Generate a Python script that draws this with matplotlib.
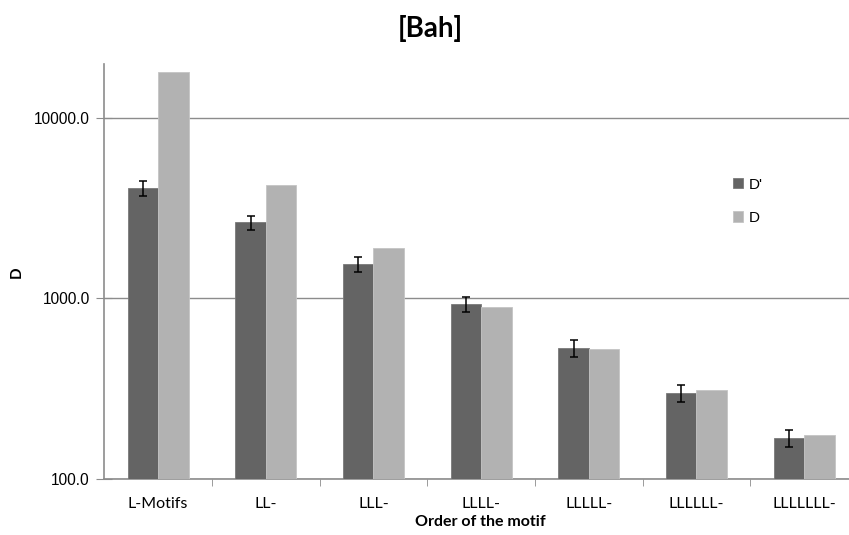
import matplotlib
matplotlib.use('Agg')
from matplotlib import pyplot as plt
from matplotlib.ticker import FixedLocator, FuncFormatter, NullLocator
import numpy as np

categories = ['L-Motifs', 'LL-', 'LLL-', 'LLLL-', 'LLLLL-', 'LLLLLL-', 'LLLLLLL-']
d_prime = [4080, 2640, 1545, 935, 530, 300, 168]
d_prime_err = [380, 245, 145, 90, 55, 32, 19]
d_values = [18100, 4250, 1900, 900, 522, 312, 175]

dark = '#646464'
light = '#b2b2b2'
grid_c = '#8c8c8c'

fig = plt.figure(figsize=(8.49, 5.35), dpi=100)
ax = fig.add_axes([104.3 / 849, 56.3 / 535, (858 - 104.3) / 849, (478.7 - 64) / 535])

x = np.arange(len(categories))
w = 0.283
ax.bar(x - w / 2, d_prime, w, color=dark, edgecolor='#7a7a7a', linewidth=0.6,
       label="D'", zorder=3)
ax.errorbar(x - w / 2, d_prime, yerr=d_prime_err, fmt='none', ecolor='black',
            elinewidth=1.1, capsize=3.2, capthick=1.1, zorder=4)
ax.bar(x + w / 2, d_values, w, color=light, edgecolor='#c4c4c4', linewidth=0.6,
       label='D', zorder=3)

ax.set_yscale('log')
ax.set_ylim(100, 20000)
ax.set_xlim(-0.5, len(categories) - 0.5)
ax.yaxis.set_major_locator(FixedLocator([100, 1000, 10000]))
ax.yaxis.set_minor_locator(NullLocator())
ax.yaxis.set_major_formatter(FuncFormatter(lambda v, p: '{:.1f}'.format(v)))
ax.grid(axis='y', color=grid_c, linewidth=1.0, zorder=0)

ax.set_xticks(x)
ax.set_xticklabels(categories, fontfamily='Lato', fontsize=11.5)
ax.set_xticks(np.arange(len(categories)) + 0.5, minor=True)
ax.tick_params(axis='x', which='major', length=0, pad=13)
ax.tick_params(axis='x', which='minor', length=5, color=grid_c, direction='out')
ax.tick_params(axis='y', which='major', length=11, direction='inout',
               color=grid_c, pad=5, labelsize=11.2)
for lab in ax.get_yticklabels():
    lab.set_fontfamily('Liberation Sans')

for s in ['top', 'right']:
    ax.spines[s].set_visible(False)
ax.spines['left'].set_color(grid_c)
ax.spines['bottom'].set_color(grid_c)
ax.spines['left'].set_linewidth(1.2)
ax.spines['bottom'].set_linewidth(1.2)

fig.text(480 / 849, 1 - 522 / 535, 'Order of the motif', ha='center', va='center',
         fontfamily='Lato', fontweight='bold', fontsize=11.5)
fig.text(17 / 849, 1 - 272 / 535, 'D', ha='center', va='center', rotation=90,
         fontfamily='Lato', fontweight='bold', fontsize=11)

fig.text(430 / 849, 1 - 28 / 535, '[Bah]', ha='center', va='center',
         fontfamily='Lato', fontweight='bold', fontsize=20)

leg = fig.legend(loc='upper left', bbox_to_anchor=(719 / 849, 1 - 164 / 535),
                 frameon=False, handlelength=0.65, handleheight=0.65,
                 handletextpad=0.4, labelspacing=1.25,
                 prop={'family': 'Liberation Sans', 'size': 11})

fig.savefig('out.png', dpi=100)
